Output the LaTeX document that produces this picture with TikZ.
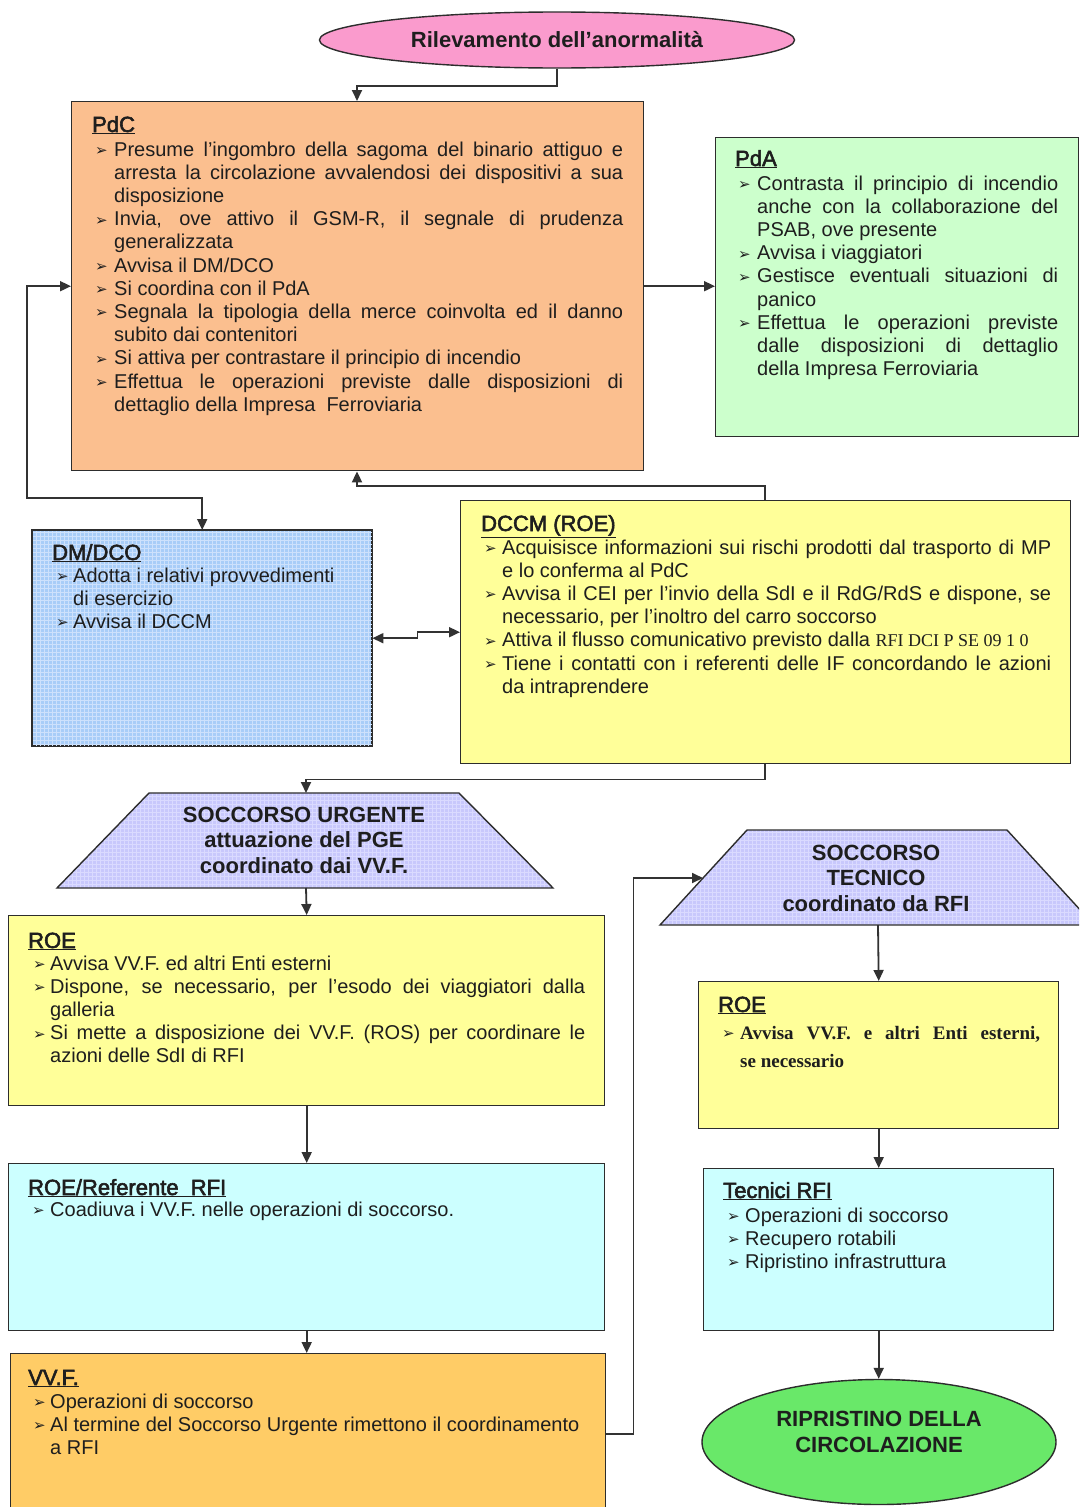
\documentclass[tikz,border=0pt]{standalone}
\usepackage{fontspec}
\setmainfont{Liberation Sans}
\newfontfamily\dejavu{DejaVu Sans}
\newfontfamily\tfont[FakeBold=2.5]{Liberation Sans}
\newfontfamily\serifx{Liberation Serif}
\usetikzlibrary{arrows.meta,shapes.geometric,calc}
\definecolor{pinkc}{RGB}{250,155,205}
\definecolor{peach}{RGB}{251,191,143}
\definecolor{pdagreen}{RGB}{204,255,204}
\definecolor{yell}{RGB}{255,255,153}
\definecolor{cyanc}{RGB}{204,255,255}
\definecolor{vvfc}{RGB}{255,204,102}
\definecolor{endgreen}{RGB}{105,232,105}
\definecolor{dmblue}{RGB}{168,205,248}
\definecolor{dmgrid}{RGB}{205,225,252}
\definecolor{lav}{RGB}{200,200,252}
\definecolor{lavgrid}{RGB}{218,218,255}
\definecolor{boxc}{RGB}{45,45,45}
\definecolor{linec}{RGB}{50,50,50}
\definecolor{txtc}{RGB}{30,30,30}
\newlength\hi
\newcommand{\bul}{{\dejavu\fontsize{15}{15}\selectfont ➢}}
\newcommand{\bitem}[1]{\par\hangindent=\hi\hangafter=1\noindent\makebox[\hi][l]{\raisebox{0.5pt}{\bul}}#1}
\newcommand{\BoxBody}[3]{\parbox[t]{#1}{\setlength{\hi}{#2}\parindent=0pt\tolerance=10000\hbadness=10000\hyphenpenalty=10000\exhyphenpenalty=10000 #3}}
\tikzset{
  box/.style={rectangle, draw=boxc, line width=1.4pt, inner sep=0pt, anchor=north west},
  ttl/.style={inner sep=0pt, anchor=base west, text=txtc, font=\tfont\fontsize{22}{24}\selectfont},
  bodytxt/.style={inner sep=0pt, anchor=base west, text=txtc, font=\fontsize{20}{23.2}\selectfont},
  bigtxt/.style={inner sep=0pt, align=center, text=txtc, font=\bfseries\fontsize{22}{25.5}\selectfont},
  arr/.style={draw=linec, line width=1.8pt, -{Triangle[length=11pt,width=10pt]}},
  dbl/.style={draw=linec, line width=1.8pt, {Triangle[length=11pt,width=10pt]}-{Triangle[length=11pt,width=10pt]}},
  gridline/.style={draw=#1, line width=0.8pt}
}
\begin{document}
\begin{tikzpicture}[x=1pt,y=-1pt]
\useasboundingbox (0,0) rectangle (1079,1507);
\clip (0,0) rectangle (1079,1507);
\fill[white] (0,0) rectangle (1079,1507);

% start ellipse
\node[ellipse, draw=boxc, line width=1.4pt, fill=pinkc, minimum width=475pt, minimum height=56pt, inner sep=0pt, text=txtc, font=\bfseries\fontsize{22}{24}\selectfont] (start) at (557,40) {Rilevamento dell’anormalità};

% boxes
\node[box, fill=peach, minimum width=572pt, minimum height=369pt] (pdc) at (71,101) {};
\node[box, fill=pdagreen, minimum width=363pt, minimum height=299pt] (pda) at (715,137) {};
\node[box, fill=dmblue, minimum width=339pt, minimum height=215pt] (dmdco) at (32,530) {};
\begin{scope}
\clip (dmdco.south west) rectangle (dmdco.north east);
\draw[gridline=dmgrid, step=4pt] (dmdco.south west) grid (dmdco.north east);
\end{scope}
\draw[draw=boxc, line width=1.4pt] (dmdco.south west) rectangle (dmdco.north east);
\node[box, fill=yell, minimum width=610pt, minimum height=263pt] (dccm) at (460,500) {};
\node[box, fill=yell, minimum width=596pt, minimum height=190pt] (roeL) at (8,915) {};
\node[box, fill=cyanc, minimum width=596pt, minimum height=167pt] (ref) at (8,1163) {};
\node[box, fill=vvfc, minimum width=595pt, minimum height=170pt] (vvf) at (10,1353) {};
\node[box, fill=yell, minimum width=360pt, minimum height=147pt] (roeR) at (698,981) {};
\node[box, fill=cyanc, minimum width=350pt, minimum height=162pt] (tec) at (703,1168) {};
\node[ellipse, draw=boxc, line width=1.4pt, fill=endgreen, minimum width=354pt, minimum height=125pt, inner sep=0pt] (fin) at (879,1442) {};

% trapezoids
\begin{scope}
\clip (149,793) -- (459,793) -- (553,888) -- (57,888) -- cycle;
\fill[lav] (57,793) rectangle (553,888);
\draw[gridline=lavgrid, step=4pt] (57,793) grid (553,888);
\end{scope}
\draw[draw=boxc, line width=1.4pt] (149,793) -- (459,793) -- (553,888) -- (57,888) -- cycle;
\begin{scope}
\clip (747,830) -- (1007,830) -- (1094,925) -- (660,925) -- cycle;
\fill[lav] (660,830) rectangle (1094,925);
\draw[gridline=lavgrid, step=4pt] (660,830) grid (1094,925);
\end{scope}
\draw[draw=boxc, line width=1.4pt] (747,830) -- (1007,830) -- (1094,925) -- (660,925) -- cycle;
\coordinate (suTop) at (306,793);
\coordinate (suBot) at (306,888);
\coordinate (stLeft) at (703,878);
\coordinate (stBot) at (878,925);
\node[bigtxt] (suT) at (304,840) {SOCCORSO URGENTE\\attuazione del PGE\\coordinato dai VV.F.};
\node[bigtxt] (stT) at (876,878) {SOCCORSO\\TECNICO\\coordinato da RFI};
\node[bigtxt] (finT) at (879,1432) {RIPRISTINO DELLA\\CIRCOLAZIONE};

% texts
\node[ttl] (pdcT) at (92,132) {\underline{PdC}};
\node[bodytxt] (pdcB) at (95,156) {\BoxBody{528pt}{19pt}{%
\bitem{Presume l’ingombro della sagoma del binario attiguo e\linebreak arresta la circolazione avvalendosi dei dispositivi a sua\linebreak disposizione}
\bitem{Invia, ove attivo il GSM-R, il segnale di prudenza\linebreak generalizzata}
\bitem{Avvisa il DM/DCO}
\bitem{Si coordina con il PdA}
\bitem{Segnala la tipologia della merce coinvolta ed il danno\linebreak subito dai contenitori}
\bitem{Si attiva per contrastare il principio di incendio}
\bitem{Effettua le operazioni previste dalle disposizioni di\linebreak dettaglio della Impresa\ \ Ferroviaria}}};

\node[ttl] (pdaT) at (735,166) {\underline{PdA}};
\node[bodytxt] (pdaB) at (738,190) {\BoxBody{320pt}{19pt}{%
\bitem{Contrasta il principio di incendio\linebreak anche con la collaborazione del\linebreak PSAB, ove presente}
\bitem{Avvisa i viaggiatori}
\bitem{Gestisce eventuali situazioni di\linebreak panico}
\bitem{Effettua le operazioni previste\linebreak dalle disposizioni di dettaglio\linebreak della Impresa Ferroviaria}}};

\node[ttl] (dmT) at (52,560) {\underline{DM/DCO}};
\node[bodytxt] (dmB) at (56,582) {\BoxBody{300pt}{17pt}{%
\bitem{Adotta i relativi provvedimenti\newline di esercizio}
\bitem{Avvisa il DCCM}}};

\node[ttl] (dccmT) at (481,531) {\underline{DCCM (ROE)}};
\node[bodytxt] (dccmB) at (484,554) {\BoxBody{567pt}{18pt}{%
\bitem{Acquisisce informazioni sui rischi prodotti dal trasporto di MP\linebreak e lo conferma al PdC}
\bitem{Avvisa il CEI per l’invio della SdI e il RdG/RdS e dispone, se\linebreak necessario, per l’inoltro del carro soccorso}
\bitem{Attiva il flusso comunicativo previsto dalla {\serifx\fontsize{18}{23.2}\selectfont RFI DCI P SE 09 1 0}}
\bitem{Tiene i contatti con i referenti delle IF concordando le azioni\linebreak da intraprendere}}};

\node[ttl] (roeLT) at (28,948) {\underline{ROE}};
\node[bodytxt] (roeLB) at (33,970) {\BoxBody{552pt}{17pt}{%
\bitem{Avvisa VV.F. ed altri Enti esterni}
\bitem{Dispone, se necessario, per l’esodo dei viaggiatori dalla\linebreak galleria}
\bitem{Si mette a disposizione dei VV.F. (ROS) per coordinare le\linebreak azioni delle SdI di RFI}}};

\node[ttl] (refT) at (28,1195) {\underline{ROE/Referente\ \ RFI}};
\node[bodytxt] (refB) at (32,1216) {\BoxBody{552pt}{18pt}{%
\bitem{Coadiuva i VV.F. nelle operazioni di soccorso.}}};

\node[ttl] (vvfT) at (28,1385) {\underline{VV.F.}};
\node[bodytxt] (vvfB) at (33,1408) {\BoxBody{560pt}{17pt}{%
\bitem{Operazioni di soccorso}
\bitem{Al termine del Soccorso Urgente rimettono il coordinamento\newline a RFI}}};

\node[ttl] (roeRT) at (718,1012) {\underline{ROE}};
\node[bodytxt, font=\serifx\bfseries\fontsize{19}{28}\selectfont] (roeRB) at (722,1039) {\BoxBody{318pt}{18pt}{%
\bitem{Avvisa VV.F. e altri Enti esterni,\linebreak se necessario}}};

\node[ttl] (tecT) at (723,1198) {\underline{Tecnici RFI}};
\node[bodytxt] (tecB) at (727,1222) {\BoxBody{300pt}{18pt}{%
\bitem{Operazioni di soccorso}
\bitem{Recupero rotabili}
\bitem{Ripristino infrastruttura}}};

% connectors
\draw[arr] (start.south) -- ++(0,17) -| ([xshift=286pt]pdc.north west);
\draw[arr] (pdc.east) -- (pdc.east -| pda.west);
\draw[dbl] (pdc.west) -| (27,498) -| (dmdco.north);
\draw[arr] ([xshift=305pt]dccm.north west) -- ++(0,-14) -| ([xshift=286pt]pdc.south west);
\draw[dbl] (dmdco.east) -- ++(45,0) |- (dccm.west);
\draw[arr] ([xshift=305pt]dccm.south west) -- ++(0,15) -| (suTop);
\draw[arr] (suBot) -- (roeL.north);
\draw[arr] (roeL.south) -- (ref.north);
\draw[arr] (ref.south) -- (ref.south |- vvf.north);
\draw[arr] ($(vvf.east)+(0,-5)$) -- ++(27,0) |- (stLeft);
\draw[arr] (stBot) -- (roeR.north);
\draw[arr] (roeR.south) -- (roeR.south |- tec.north);
\draw[arr] (tec.south) -- (tec.south |- fin.north);
\end{tikzpicture}
\end{document}
